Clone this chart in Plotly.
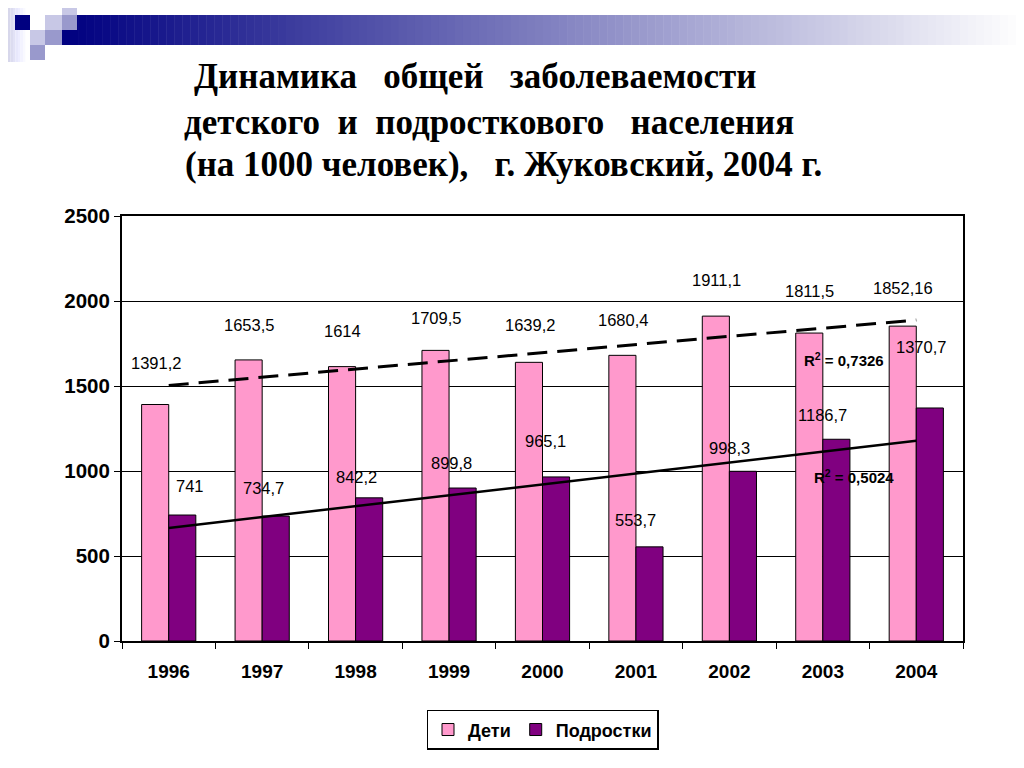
import numpy as np
import plotly.graph_objects as go

years = ["1996", "1997", "1998", "1999", "2000", "2001", "2002", "2003", "2004"]
deti = [1391.2, 1653.5, 1614, 1709.5, 1639.2, 1680.4, 1911.1, 1811.5, 1852.16]
podrostki = [741, 734.7, 842.2, 899.8, 965.1, 553.7, 998.3, 1186.7, 1370.7]
deti_text = ["1391,2", "1653,5", "1614", "1709,5", "1639,2", "1680,4", "1911,1", "1811,5", "1852,16"]
podr_text = ["741", "734,7", "842,2", "899,8", "965,1", "553,7", "998,3", "1186,7", "1370,7"]
r2_deti, r2_podr = "0,7326", "0,5024"

PINK, PURPLE, NAVY = "#ff99cc", "#800080", "#000080"
SANS = "Liberation Sans, Arial, sans-serif"
SERIF = "Times New Roman, Liberation Serif, DejaVu Serif, Noto Serif, serif"

# linear trendlines (as Excel draws them)
idx = np.arange(len(years))
trend_d = np.polyval(np.polyfit(idx, deti, 1), idx)
trend_p = np.polyval(np.polyfit(idx, podrostki, 1), idx)

fig = go.Figure()
fig.add_trace(go.Bar(x=years, y=deti, name="Дети",
                     marker=dict(color=PINK, line=dict(color="#000", width=1))))
fig.add_trace(go.Bar(x=years, y=podrostki, name="Подростки",
                     marker=dict(color=PURPLE, line=dict(color="#000", width=1))))
fig.add_trace(go.Scatter(x=years, y=trend_d, mode="lines", showlegend=False,
                         line=dict(color="#000", width=3, dash="20px,10px"), hoverinfo="skip"))
fig.add_trace(go.Scatter(x=years, y=trend_p, mode="lines", showlegend=False,
                         line=dict(color="#000", width=2.5), hoverinfo="skip"))

ann = []
# label offsets tuned to the original slide
d_shift = [42, 35, 36, 32, 37, 35, 36, 42, 38]
p_shift = [29, 28, 21, 25, 36, 27, 23, 24, 61]
p_xshift = [21, 1, 1, 2, 3, 0, 0, 0, 5]
lbl = dict(family=SANS, size=16.5, color="#000")
for i in range(len(years)):
    ann.append(dict(x=i, y=deti[i], text=deti_text[i], showarrow=False, font=lbl,
                    xshift=-13, yshift=d_shift[i]))
    ann.append(dict(x=i, y=podrostki[i], text=podr_text[i], showarrow=False, font=lbl,
                    xshift=p_xshift[i], yshift=p_shift[i]))

r2f = dict(family=SANS, size=15, color="#000", weight="bold")
ann.append(dict(x=7, y=1653, text="R<sup>2</sup> = " + r2_deti, showarrow=False,
                font=r2f, xshift=21))
ann.append(dict(x=7, y=970, text="R<sup>2</sup> = " + r2_podr, showarrow=False,
                font=r2f, xshift=31))

# the page adds an 8px body margin, so positions below are in screen px
PX0, PY0, PW, PH = 122, 641, 841, 425


def px(x):
    return (x - PX0) / PW


def py(y):
    return (PY0 - y) / PH


tf = dict(family=SERIF, size=35, color="#000", weight="bold")
title_lines = ["Динамика   общей   заболеваемости",
               "детского  и  подросткового   населения",
               "(на 1000 человек),   г. Жуковский, 2004 г."]
for line, xp, yp in zip(title_lines, [192, 182, 183], [77, 122, 164]):
    ann.append(dict(xref="paper", yref="paper", x=px(xp), y=py(yp),
                    xanchor="left", yanchor="middle", text=line, showarrow=False, font=tf))

# slide decoration: squares + gradient band
shapes = []
n = 120
x0, x1 = 62, 1024
for k in range(n):
    t = k / (n - 1)
    c = int(255 * t)
    b = int(128 + 127 * t)
    xa = x0 + (x1 - x0) * k / n
    xb = x0 + (x1 - x0) * (k + 1) / n + 0.5
    shapes.append(dict(type="rect", xref="paper", yref="paper", layer="below",
                       x0=px(xa), x1=px(xb), y0=py(45), y1=py(15),
                       fillcolor=f"rgb({c},{c},{b})", line=dict(width=0)))
for k in range(8):
    c = int(215 + 40 * k / 7)
    shapes.append(dict(type="rect", xref="paper", yref="paper", layer="below",
                       x0=px(8 + k * 2.5), x1=px(8 + (k + 1) * 2.5), y0=py(62), y1=py(8),
                       fillcolor=f"rgb({c},{c},{min(255, c + 20)})", line=dict(width=0)))
squares = [(15, 15, 30, 30, NAVY), (62, 8, 77, 15, "#c8c8e6"), (45, 15, 62, 30, "#c8c8e6"),
           (62, 15, 77, 30, "#9999cc"), (30, 30, 45, 45, "#c8c8e6"), (45, 30, 62, 45, "#9999cc"),
           (30, 45, 45, 60, "#9999cc")]
for (a, b_, c, d, col) in squares:
    shapes.append(dict(type="rect", xref="paper", yref="paper", layer="below",
                       x0=px(a), x1=px(c), y0=py(d), y1=py(b_),
                       fillcolor=col, line=dict(width=0)))

fig.update_layout(
    width=1016, height=760, paper_bgcolor="#fff", plot_bgcolor="#fff",
    margin=dict(l=114, r=61, t=208, b=127, autoexpand=False),
    barmode="group", bargap=0.42, bargroupgap=0,
    font=dict(family=SANS, color="#000"),
    annotations=ann, shapes=shapes,
    legend=dict(orientation="h", x=0.5, xanchor="center", y=-0.209, yanchor="middle",
                bordercolor="#000", borderwidth=1.5, bgcolor="#fff",
                font=dict(family=SANS, size=18, color="#000", weight="bold"),
                itemwidth=30, tracegroupgap=0),
    xaxis=dict(type="category", range=[-0.5, 8.5], showline=True, linecolor="#000",
               linewidth=2, mirror=True, ticks="outside", tickson="boundaries", ticklen=6,
               tickcolor="#000", showgrid=False, ticklabelstandoff=12,
               tickfont=dict(family=SANS, size=19, color="#000", weight="bold")),
    yaxis=dict(range=[0, 2500], dtick=500, showline=True, linecolor="#000", linewidth=2,
               mirror=True, ticks="outside", ticklen=6, tickcolor="#000",
               showgrid=True, gridcolor="#000", gridwidth=1.2, zeroline=False,
               tickfont=dict(family=SANS, size=20.5, color="#000", weight="bold")),
)

fig.write_html("out.html")
